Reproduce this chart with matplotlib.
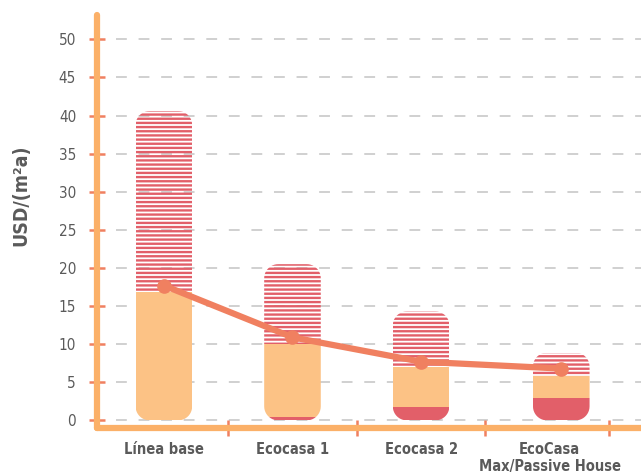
import matplotlib
matplotlib.use("Agg")
import numpy as np
import matplotlib.pyplot as plt
from matplotlib.patches import Rectangle, PathPatch
from matplotlib.path import Path

plt.rcParams['font.family'] = ['DejaVu Sans']
plt.rcParams['font.stretch'] = 'condensed'
plt.rcParams['hatch.linewidth'] = 1.7

categories = ['Línea base', 'Ecocasa 1', 'Ecocasa 2', 'EcoCasa\nMax/Passive House']
seg_red = [0.0, 0.5, 1.7, 3.0]
seg_orange = [16.8, 9.5, 5.3, 2.8]
seg_hatch = [23.8, 10.5, 7.3, 3.1]
line_vals = [17.7, 10.9, 7.7, 6.8]

c_red = '#E25F69'
c_orange = '#FCC285'
c_axis = '#FBB068'
c_line = '#F08060'
c_text = '#5A5A5A'


def rounded_path(x0, y0, w, h, rx, ry):
    t = np.linspace(0, np.pi / 2, 12)
    corners = [(x0 + w - rx, y0 + h - ry, 0), (x0 + rx, y0 + h - ry, np.pi / 2),
               (x0 + rx, y0 + ry, np.pi), (x0 + w - rx, y0 + ry, 1.5 * np.pi)]
    pts = []
    for cx, cy, a in corners:
        pts += list(zip(cx + rx * np.cos(t + a), cy + ry * np.sin(t + a)))
    pts.append(pts[0])
    return Path(pts, closed=True)


W, H = 641, 473
fig = plt.figure(figsize=(W / 100, H / 100), dpi=100)
ax = fig.add_axes([97 / W, 45 / H, (W - 97) / W, (428 - 15) / H])
xlim = (-0.52, 3.71)
ylim = (-1.0, 53.2)
ax.set_xlim(*xlim)
ax.set_ylim(*ylim)

# pixels per data unit, so corners come out circular
px_x = (W - 97) / (xlim[1] - xlim[0])
px_y = (428 - 15) / (ylim[1] - ylim[0])
width = 0.44
rad_px = 14

xs = [0, 1, 2, 3.09]

for i, x in enumerate(xs):
    total = seg_red[i] + seg_orange[i] + seg_hatch[i]
    clip = PathPatch(rounded_path(x - width / 2, 0, width, total,
                                  rad_px / px_x, rad_px / px_y),
                     transform=ax.transData, facecolor='none', edgecolor='none')
    ax.add_patch(clip)
    b = 0
    for val, kw in [(seg_red[i], dict(facecolor=c_red, edgecolor='none')),
                    (seg_orange[i], dict(facecolor=c_orange, edgecolor='none')),
                    (seg_hatch[i], dict(facecolor='none', edgecolor=c_red, hatch='----'))]:
        if val > 0:
            r = Rectangle((x - width / 2, b), width, val, lw=0, zorder=2, **kw)
            ax.add_patch(r)
            r.set_clip_path(clip)
        b += val

ax.plot(xs, line_vals, color=c_line, lw=4.5, marker='o', markersize=9.5,
        solid_capstyle='round', zorder=4)

# dashed grid
for v in range(0, 55, 5):
    ax.hlines(v, -0.37, xlim[1], colors='#CDCDCD', lw=1.3,
              linestyles=(0, (6, 6.5)), zorder=1)

for s in ['top', 'right']:
    ax.spines[s].set_visible(False)
for s in ['left', 'bottom']:
    ax.spines[s].set_color(c_axis)
    ax.spines[s].set_linewidth(4.5)
    ax.spines[s].set_capstyle('round')
    ax.spines[s].set_zorder(3)

ax.set_yticks(range(0, 55, 5))
ax.tick_params(axis='y', direction='inout', length=12, width=1.8, color=c_line,
               labelcolor=c_text, labelsize=11, pad=9)
ax.set_xticks(range(4))
ax.set_xticklabels(categories)
ax.set_xticks([0.5, 1.5, 2.5, 3.46], minor=True)
ax.tick_params(axis='x', which='major', length=0, labelcolor=c_text,
               labelsize=10.5, pad=10)
ax.tick_params(axis='x', which='minor', direction='inout', length=12,
               width=1.8, color=c_line)
for t in ax.get_xticklabels():
    t.set_fontweight('bold')

fig.text(21 / W, 1 - 195 / H, 'USD/(m²a)', rotation=90, ha='center',
         va='center', fontsize=14, fontweight='bold', color=c_text)

fig.savefig('out.png', dpi=100)
